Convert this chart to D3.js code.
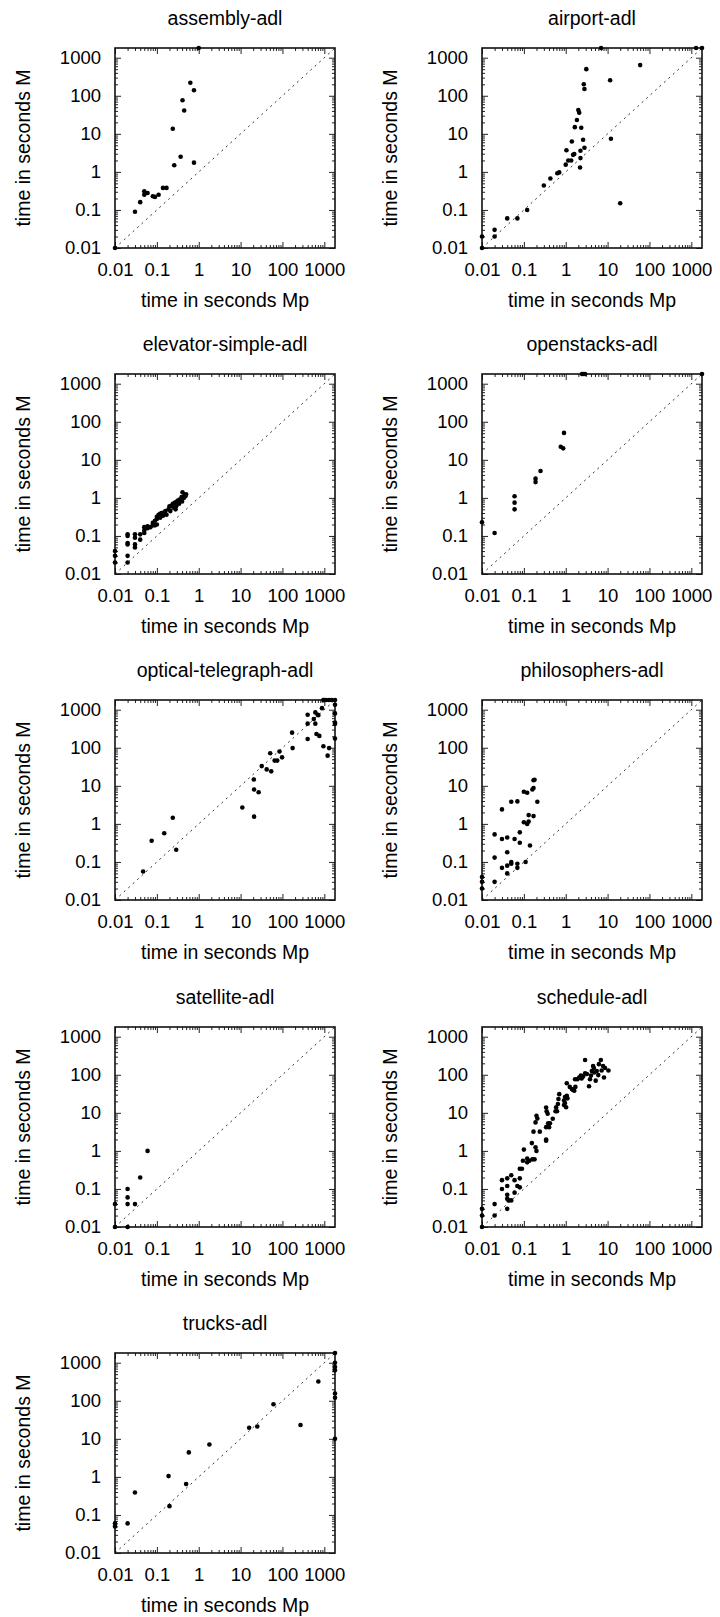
<!DOCTYPE html>
<html>
<head>
<meta charset="utf-8">
<script src="https://cdn.jsdelivr.net/npm/d3@7"></script>
<style>
    body { margin: 0; background: #fff; }
    svg { display: block; font-family: "Liberation Sans", Arial, sans-serif; }
</style>
</head>
<body>
<svg id="drawing_region"></svg>
<script>
// [time Mp, time M] pairs per domain
const assembly = [[0.01,0.01],[1,1800],[0.63,220],[0.77,140],[0.41,76],[0.45,41],[0.24,13.6],[0.37,2.5],[0.26,1.5],[0.77,1.75],
    [0.03,0.09],[0.04,0.16],[0.05,0.31],[0.05,0.25],[0.06,0.28],[0.08,0.23],[0.09,0.22],[0.11,0.25],[0.14,0.38],[0.17,0.38]];

const airport = [[0.01,0.01],[0.01,0.02],[0.02,0.03],[0.02,0.02],[0.04,0.06],[0.07,0.06],[0.12,0.1],[0.3,0.44],[0.43,0.67],
    [0.63,0.92],[0.7,0.97],[1.0,1.55],[1.04,3.7],[1.15,2.0],[1.35,2.0],[1.4,6.3],[1.5,2.8],[1.6,2.95],[1.65,15],[1.85,23],
    [2.0,42],[2.1,36],[2.2,1.3],[2.25,2.3],[2.25,3.6],[2.35,14.5],[2.6,7],[2.7,200],[2.8,150],[2.8,4.3],[3.1,500],[7,1800],
    [11.5,255],[12,7.4],[20,0.15],[60,640],[1300,1800],[1800,1800]];

const elevator = [[0.01,0.02],[0.01,0.03],[0.01,0.04],[0.02,0.02],[0.02,0.03],[0.02,0.06],[0.02,0.065],[0.02,0.1],[0.02,0.11],
    [0.03,0.05],[0.03,0.06],[0.03,0.09],[0.03,0.11],[0.04,0.08],[0.04,0.11],[0.05,0.12],[0.05,0.14],[0.05,0.17],[0.06,0.16],
    [0.06,0.18],[0.07,0.17],[0.08,0.19],[0.08,0.22],[0.09,0.19],[0.09,0.25],[0.1,0.32],[0.1,0.2],[0.1,0.28],[0.11,0.36],
    [0.12,0.3],[0.12,0.38],[0.13,0.4],[0.14,0.34],[0.15,0.42],[0.16,0.45],[0.17,0.36],[0.19,0.5],[0.2,0.6],[0.21,0.45],
    [0.22,0.62],[0.24,0.7],[0.25,0.55],[0.27,0.75],[0.28,0.5],[0.29,0.6],[0.3,0.8],[0.32,0.85],[0.34,0.7],[0.35,0.9],
    [0.39,1.05],[0.4,0.8],[0.41,1.4],[0.44,1.0],[0.46,1.2],[0.48,1.1],[0.5,1.25]];

const openstacks = [[0.01,0.23],[0.02,0.12],[0.06,1.1],[0.06,0.75],[0.06,0.5],[0.19,3.2],[0.19,2.6],[0.25,5.1],[0.76,22],
    [0.87,20],[0.91,51],[2.45,1800],[2.6,1800],[2.9,1800],[1800,1800]];

const optical = [[0.047,0.056],[0.075,0.36],[0.15,0.57],[0.24,1.45],[0.29,0.21],[11,2.7],[21,1.55],[21,8],[27,6.8],[20.7,14.7],
    [32,33],[42,27],[54,24],[51,72],[65,46],[75,46],[85,80],[98,56],[170,250],[175,98],[400,430],[400,740],[400,170],
    [560,570],[610,850],[610,430],[690,740],[650,230],[720,720],[760,205],[880,1100],[950,110],[950,1800],[1000,1800],
    [1100,1800],[1300,1800],[1500,1800],[1800,1800],[1200,62],[1300,98],[1800,1350],[1800,800],[1800,460],[1800,420],[1800,175]];

const philosophers = [[0.01,0.02],[0.01,0.03],[0.01,0.04],[0.02,0.03],[0.02,0.13],[0.02,0.53],[0.03,0.07],[0.03,0.4],[0.03,2.4],
    [0.04,0.05],[0.04,0.08],[0.04,0.18],[0.04,0.44],[0.05,0.09],[0.05,0.1],[0.05,3.8],[0.06,0.4],[0.07,3.9],[0.07,0.09],
    [0.07,0.07],[0.08,0.6],[0.08,0.32],[0.1,7],[0.1,1.1],[0.11,0.1],[0.12,6.6],[0.12,1.0],[0.13,1.15],[0.13,1.7],[0.14,0.27],
    [0.16,8],[0.17,8.8],[0.17,1.6],[0.17,14],[0.18,14.5],[0.21,3.8]];

const satellite = [[0.01,0.01],[0.01,0.04],[0.02,0.01],[0.02,0.04],[0.02,0.06],[0.02,0.1],[0.03,0.04],[0.04,0.2],[0.06,1]];

const schedule = [[0.01,0.01],[0.01,0.02],[0.01,0.03],[0.02,0.02],[0.02,0.04],[0.03,0.1],[0.03,0.17],[0.04,0.19],[0.04,0.12],
    [0.04,0.07],[0.04,0.055],[0.04,0.03],[0.043,0.05],[0.05,0.23],[0.05,0.05],[0.06,0.17],[0.06,0.08],[0.07,0.12],[0.08,0.34],
    [0.08,0.11],[0.08,0.19],[0.09,0.34],[0.095,0.55],[0.1,1.08],[0.12,0.5],[0.12,0.63],[0.135,0.55],[0.155,1.6],[0.16,0.6],
    [0.18,0.6],[0.19,1.25],[0.2,1.0],[0.17,3.2],[0.19,5.6],[0.2,8.4],[0.21,7.1],[0.24,3.2],[0.34,1.86],[0.34,2.0],[0.34,13.8],
    [0.35,11],[0.34,4.2],[0.37,9.5],[0.38,5.3],[0.4,4.2],[0.42,5.3],[0.49,7],[0.57,11],[0.59,14],[0.62,11],[0.67,23],[0.7,31],
    [0.65,17],[0.91,16],[0.91,21],[0.96,18],[0.96,26],[1.02,14],[1.06,28],[1.1,24],[1.06,60],[1.25,48],[1.4,42],[1.5,40],
    [1.6,38],[1.7,48],[1.67,76],[1.9,76],[2.1,85],[2.3,95],[2.4,80],[2.6,90],[2.9,245],[2.9,110],[3.2,105],[3.6,50],[3.8,76],
    [4,95],[4.2,126],[4.5,170],[4.7,150],[4.8,115],[5.2,70],[5.5,126],[6,98],[6.2,190],[6.9,245],[7.2,130],[7.8,170],
    [8.2,85],[8.7,150],[10.5,130]];

const trucks = [[0.01,0.06],[0.01,0.05],[0.02,0.06],[0.03,0.39],[0.19,1.05],[0.2,0.17],[0.5,0.65],[0.58,4.4],[1.8,7.1],
    [16,19.5],[25,21],[61,81],[270,23],[720,320],[1800,1800],[1800,1000],[1800,770],[1800,630],[1800,155],[1800,120],[1800,10]];

const titles = ["assembly-adl", "airport-adl", "elevator-simple-adl", "openstacks-adl", "optical-telegraph-adl",
    "philosophers-adl", "satellite-adl", "schedule-adl", "trucks-adl"];
const datasets = [assembly, airport, elevator, openstacks, optical, philosophers, satellite, schedule, trucks];

const tick_values = [0.01, 0.1, 1, 10, 100, 1000];
const tick_labels = ["0.01", "0.1", "1", "10", "100", "1000"];
const time_limit = 1800;

class ScatterPlot {

    constructor( config, data ) {
        this.config = {
            parent: config.parent,
            left: config.left,
            top: config.top,
            width: config.width || 220,
            height: config.height || 200,
            title: config.title || "",
            xlabel: config.xlabel || "",
            ylabel: config.ylabel || "",
        }
        this.data = data;
        this.init();
    }

    init() {
        let self = this;

        self.chart = self.config.parent.append('g')
            .attr('transform', `translate(${self.config.left}, ${self.config.top})`);

        self.xscale = d3.scaleLog()
            .domain( [tick_values[0], time_limit] )
            .range( [0, self.config.width] );

        self.yscale = d3.scaleLog()
            .domain( [tick_values[0], time_limit] )
            .range( [self.config.height, 0] );

        // minor ticks 2..9 in every decade
        self.minor = [];
        tick_values.forEach( d => {
            for (let k = 2; k <= 9; k++) {
                if (d * k <= time_limit) self.minor.push(d * k);
            }
        });
    }

    render() {
        let self = this;
        const w = self.config.width, h = self.config.height;
        const fmt = d => tick_labels[tick_values.indexOf(d)];

        const axes = [
            { axis: d3.axisBottom, scale: self.xscale, t: `translate(0,${h})` },
            { axis: d3.axisTop, scale: self.xscale, t: `translate(0,0)` },
            { axis: d3.axisLeft, scale: self.yscale, t: `translate(0,0)` },
            { axis: d3.axisRight, scale: self.yscale, t: `translate(${w},0)` },
        ];
        axes.forEach( (a, i) => {
            const major = a.axis(a.scale).tickValues(tick_values).tickSizeInner(-6).tickSizeOuter(0)
                .tickFormat(i === 0 || i === 2 ? fmt : "");
            if (i === 0) major.tickPadding(14.5);
            if (i === 2) major.tickPadding(14);
            const g = self.chart.append('g').attr('transform', a.t).call(major);
            g.attr('font-size', 18.5).attr('font-family', null);
            g.selectAll('text').attr('fill', '#000');
            g.select('.domain').remove();

            const minor = a.axis(a.scale).tickValues(self.minor).tickSizeInner(-3).tickSizeOuter(0).tickFormat("");
            const gm = self.chart.append('g').attr('transform', a.t).call(minor);
            gm.select('.domain').remove();
        });

        self.chart.selectAll('.tick line')
            .attr('stroke', '#222')
            .attr('stroke-width', 1);

        // y = x reference
        self.chart.append('line')
            .attr('x1', self.xscale(tick_values[0]))
            .attr('y1', self.yscale(tick_values[0]))
            .attr('x2', self.xscale(time_limit))
            .attr('y2', self.yscale(time_limit))
            .attr('stroke', '#333')
            .attr('stroke-width', 1)
            .attr('stroke-dasharray', '2,4');

        self.chart.append('rect')
            .attr('width', w)
            .attr('height', h)
            .attr('fill', 'none')
            .attr('stroke', '#111')
            .attr('stroke-width', 1.6);

        self.chart.append('g').selectAll('circle')
            .data(self.data)
            .enter()
            .append('circle')
            .attr('cx', d => self.xscale(d[0]))
            .attr('cy', d => self.yscale(d[1]))
            .attr('r', 2.3)
            .attr('fill', '#000');

        self.chart.append('text')
            .attr('x', w / 2)
            .attr('y', -23)
            .attr('text-anchor', 'middle')
            .attr('font-size', 19.5)
            .text(self.config.title);

        self.chart.append('text')
            .attr('x', w / 2)
            .attr('y', h + 59)
            .attr('text-anchor', 'middle')
            .attr('font-size', 19.5)
            .text(self.config.xlabel);

        self.chart.append('text')
            .attr('transform', 'rotate(-90)')
            .attr('x', -h / 2)
            .attr('y', -85)
            .attr('text-anchor', 'middle')
            .attr('font-size', 19.5)
            .text(self.config.ylabel);
    }
}

const svg = d3.select('#drawing_region')
    .attr('width', 720)
    .attr('height', 1617);

svg.append('rect').attr('width', 720).attr('height', 1617).attr('fill', '#fff');

const col_left = [115, 482];
const row_top = [48, 374, 700, 1027, 1353];

datasets.forEach( (data, i) => {
    const plot = new ScatterPlot({
        parent: svg,
        left: col_left[i % 2],
        top: row_top[Math.floor(i / 2)],
        width: 220,
        height: 200,
        title: titles[i],
        xlabel: "time in seconds Mp",
        ylabel: "time in seconds M",
    }, data);
    plot.render();
});
</script>
</body>
</html>
